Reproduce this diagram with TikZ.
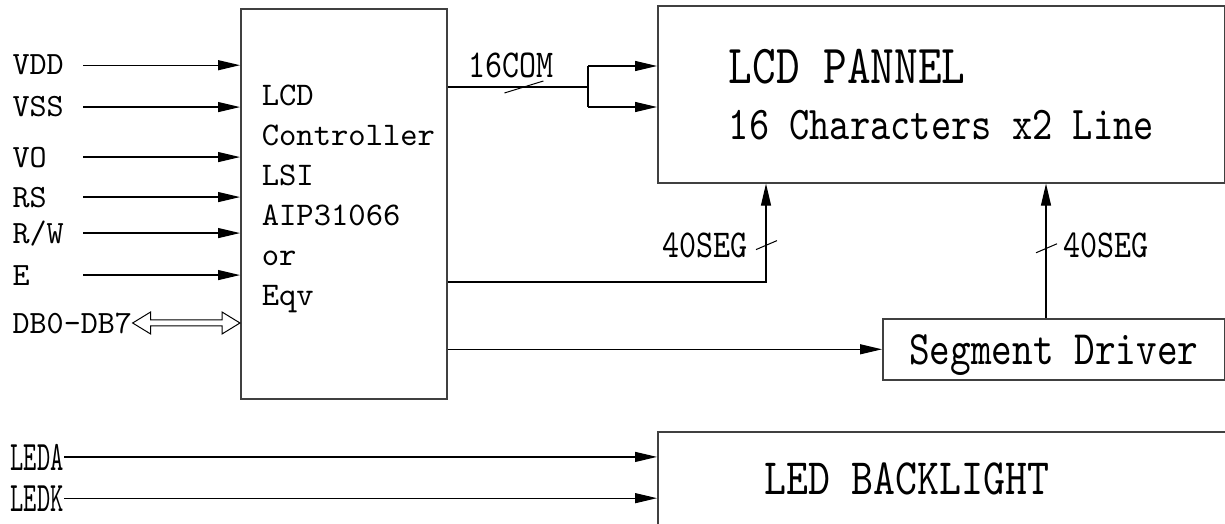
\documentclass[tikz,border=0pt]{standalone}
\usepackage{fontspec}
\newfontfamily\lcdmono{lmmono10-regular}[Extension=.otf]
\newfontfamily\lcdwide{lmmono10-regular}[Extension=.otf,FakeStretch=0.82]
\newfontfamily\lcdslim{lmmono10-regular}[Extension=.otf,FakeStretch=0.6]
\usetikzlibrary{arrows.meta,positioning}

\begin{document}
\begin{tikzpicture}[x=1pt, y=-1pt, >={Triangle[length=22pt,width=10pt]}, line width=1.2pt,
  block/.style={draw=black!75, line width=1.6pt, inner sep=0pt, anchor=north west},
  signame/.style={anchor=base west, inner sep=0pt, font=\lcdmono\fontsize{32.5}{36}\selectfont},
  buslbl/.style={anchor=base, inner sep=0pt, font=\lcdwide\fontsize{39.5}{44}\selectfont},
  busmark/.style={line width=1pt}]
  \useasboundingbox (0,0) rectangle (1225,524);
  \clip (0,0) rectangle (1225,524);

  % blocks
  \node[block, minimum width=206, minimum height=390, align=left, text width=164,
    font=\lcdmono\fontsize{33}{40}\selectfont] (ctrl) at (240,8)
    {LCD\\Controller\\LSI\\AIP31066\\or\\Eqv\rule[-17pt]{0pt}{17pt}};
  \node[block, minimum width=567, minimum height=177, align=left, font=\lcdwide] (panel) at (657,5)
    {\fontsize{55}{57}\selectfont LCD PANNEL\\[25pt]\fontsize{47}{57}\selectfont 16 Characters x2 Line};
  \node[block, minimum width=342, minimum height=61, text depth=0pt,
    font=\lcdwide\fontsize{48}{52}\selectfont] (drv) at (882,318) {Segment Driver};
  \node[block, minimum width=620, minimum height=100,
    label={[font=\lcdwide\fontsize{51}{56}\selectfont, xshift=-61, yshift=3]center:LED BACKLIGHT}] (led) at (657,431) {};

  % controller inputs
  \coordinate (inx) at (83,0);
  \foreach \sig/\txt/\y in {vdd/VDD/65, vss/VSS/107, vo/VO/157, rs/RS/197, rw/{R/W}/233, e/E/275}{
    \node[signame] (\sig) at (12,\y+10) {\txt};
    \draw[->] (\sig.east -| inx) -- (\sig.east -| ctrl.west);
  }
  \node[signame] (db) at (12,333) {DB0-DB7};
  \coordinate (dbend) at (db.east -| ctrl.west);
  \draw[line width=1pt] (db.east) -- ([xshift=18pt,yshift=11pt]db.east) -- ([xshift=18pt,yshift=3pt]db.east)
    -- ([xshift=-18pt,yshift=3pt]dbend) -- ([xshift=-18pt,yshift=11pt]dbend) -- (dbend)
    -- ([xshift=-18pt,yshift=-11pt]dbend) -- ([xshift=-18pt,yshift=-3pt]dbend)
    -- ([xshift=18pt,yshift=-3pt]db.east) -- ([xshift=18pt,yshift=-11pt]db.east) -- cycle;

  % backlight inputs
  \foreach \sig/\txt/\y in {leda/LEDA/458, ledk/LEDK/499}{
    \node[signame, font=\lcdslim\fontsize{42}{44}\selectfont] (\sig) at (10,\y+12) {\txt};
    \draw[->] (\sig.east) -- (\sig.east -| led.west);
  }

  % common lines
  \coordinate (comsplit) at (588,87);
  \coordinate (comtop) at (588,66);
  \coordinate (combot) at (588,107);
  \draw (comsplit -| ctrl.east) -- coordinate[pos=0.54] (comtick) (comsplit);
  \draw (comtop) -- (combot);
  \draw[->] (comtop) -- (comtop -| panel.west);
  \draw[->] (combot) -- (combot -| panel.west);
  \draw[busmark] (comtick) +(-19,6) -- +(20,-6);
  \node[buslbl] (comlbl) at (511,78) {16COM};

  % segment lines
  \coordinate (segbend) at (766,282);
  \draw[->] (segbend -| ctrl.east) -- (segbend) -- coordinate[pos=0.37] (segtickl) (segbend |- panel.south);
  \draw[busmark] (segtickl) +(-10,4) -- +(11,-5);
  \node[buslbl, anchor=base east] (segl) at (748,257) {40SEG};

  \coordinate (segcol) at (1046,0);
  \draw[->] (segcol |- drv.north) -- coordinate[pos=0.515] (segtickr) (segcol |- panel.south);
  \draw[busmark] (segtickr) +(-10,4) -- +(11,-5);
  \node[buslbl, anchor=base west] (segr) at (1063,257) {40SEG};

  \draw[->] (drv.west -| ctrl.east) -- (drv.west);
\end{tikzpicture}
\end{document}
